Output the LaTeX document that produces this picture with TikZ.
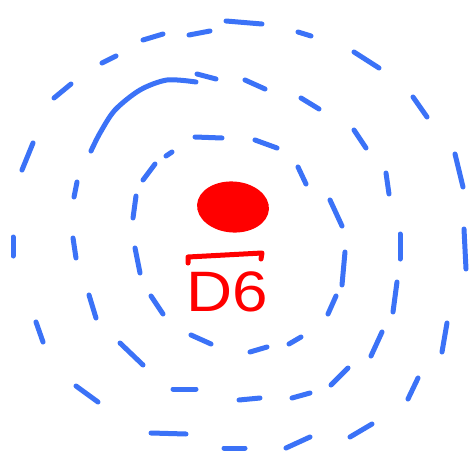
\documentclass[tikz,border=0pt]{standalone}
\usepackage{fontspec}
\setmainfont{Liberation Sans}
\definecolor{sketchblue}{RGB}{59,114,247}
\definecolor{sketchred}{RGB}{255,0,0}
\begin{document}
\begin{tikzpicture}[x=1pt,y=-1pt,
  dashstroke/.style={draw=sketchblue,line width=5pt,line cap=round,line join=round},
  redstroke/.style={draw=sketchred,line width=5pt,line cap=round,line join=round}]
\useasboundingbox (0,0) rectangle (474,455);
% outer circle dashes
\foreach \a/\b/\c/\d in {226/21/262/24, 298/32/311/36, 354/52/379/68, 413/97/427/117,
  455/154/463/187, 464/229/466/269, 447/323/442/352, 418/378/408/399, 372/424/350/437,
  310/437/286/448, 245/448/224/448, 186/434/151/433, 98/402/76/386, 43/342/36/322,
  13/256/13/237, 22/170/33/143, 54/98/71/84, 102/63/116/56, 143/40/163/34, 189/35/210/31}
  \draw[dashstroke] (\a,\b) -- (\c,\d);
% middle circle: solid arc and dashes
\draw[dashstroke] plot[smooth] coordinates {(91,151) (100,133) (115,110) (140,90) (167,80) (196,82)};
\foreach \a/\b/\c/\d in {197/74/216/79, 245/80/265/89, 301/98/319/109, 354/130/366/148,
  386/173/389/194, 400/234/400/259, 397/282/393/312, 382/332/371/356, 348/368/331/385,
  310/393/292/398, 260/398/239/400, 196/389/173/389, 143/365/120/343, 96/318/89/295,
  76/258/73/238, 74/197/77/182}
  \draw[dashstroke] (\a,\b) -- (\c,\d);
% inner circle dashes
\foreach \a/\b/\c/\d in {195/137/222/138, 255/140/277/148, 298/167/306/184, 330/200/342/226,
  345/252/342/285, 336/296/328/314, 301/337/289/344, 267/347/250/352, 211/344/191/335,
  163/314/151/296, 140/273/135/248, 133/218/136/196, 143/180/155/164, 166/156/172/152}
  \draw[dashstroke] (\a,\b) -- (\c,\d);
% red dot, bar and label
\fill[sketchred, rotate around={-4:(233,207)}] (233,207) ellipse [x radius=36pt, y radius=25.5pt];
\draw[redstroke] (188,263) -- (188,257) -- (262,253) -- (261,259);
\node[text=sketchred, font=\fontsize{57}{57}\selectfont, inner sep=0pt, xscale=1.12, anchor=base] (label) at (227,311) {D6};
\end{tikzpicture}
\end{document}
